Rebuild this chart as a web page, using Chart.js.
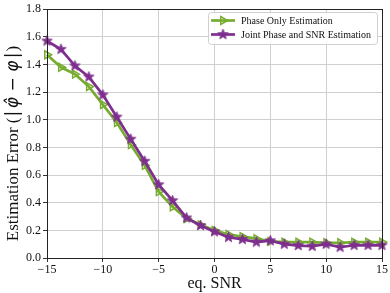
<!DOCTYPE html>
<html>
<head>
<meta charset="utf-8">
<script src="https://cdn.jsdelivr.net/npm/chart.js@4.4.1/dist/chart.umd.min.js"></script>
<style>
html,body{margin:0;padding:0;background:#fff;}
#wrap{width:390px;height:293px;position:relative;}
</style>
</head>
<body>
<div id="wrap"><canvas id="c"></canvas></div>
<script>
// ---- data ----
const snr = [-15, -13.75, -12.5, -11.25, -10, -8.75, -7.5, -6.25, -5, -3.75, -2.5, -1.25, 0,
             1.25, 2.5, 3.75, 5, 6.25, 7.5, 8.75, 10, 11.25, 12.5, 13.75, 15];
const phaseOnly = [1.47, 1.38, 1.33, 1.24, 1.11, 0.98, 0.82, 0.67, 0.48, 0.37, 0.285, 0.24, 0.20,
                   0.17, 0.155, 0.14, 0.12, 0.115, 0.115, 0.115, 0.11, 0.11, 0.115, 0.115, 0.115];
const jointEst = [1.57, 1.51, 1.39, 1.31, 1.18, 1.02, 0.86, 0.70, 0.53, 0.415, 0.29, 0.235, 0.19,
                  0.15, 0.135, 0.115, 0.125, 0.10, 0.09, 0.085, 0.10, 0.078, 0.092, 0.092, 0.092];
const seriesLabels = ['Phase Only Estimation', 'Joint Phase and SNR Estimation'];
const xTicks = [-15, -10, -5, 0, 5, 10, 15];
const yTicks = [0.0, 0.2, 0.4, 0.6, 0.8, 1.0, 1.2, 1.4, 1.6, 1.8];
const xTitle = 'eq. SNR';
// [text, isMath]
const yTitleParts = [['Estimation Error (', false], ['|', true], ['\u03C6\u0302', true], ['\u2212', true],
                     ['\u03C6', true], ['|', true], [')', false]];

const GREEN = '#77AC30';
const PURPLE = '#7E2F8E';
const SERIF = '"Liberation Serif", "DejaVu Serif", serif';
const MATH = '"DejaVu Sans", sans-serif';

function starCanvas(color, r) {
  const size = Math.ceil(2 * r + 2);
  const c = document.createElement('canvas');
  c.width = size; c.height = size;
  const ctx = c.getContext('2d');
  const cx = size / 2, cy = size / 2, ri = r * 0.42;
  ctx.beginPath();
  for (let i = 0; i < 10; i++) {
    const rad = i % 2 === 0 ? r : ri;
    const a = -Math.PI / 2 + i * Math.PI / 5;
    const px = cx + rad * Math.cos(a), py = cy + rad * Math.sin(a);
    if (i === 0) ctx.moveTo(px, py); else ctx.lineTo(px, py);
  }
  ctx.closePath();
  ctx.fillStyle = color;
  ctx.fill();
  ctx.lineWidth = 0.8;
  ctx.strokeStyle = color;
  ctx.stroke();
  return c;
}
const star = starCanvas(PURPLE, 5.5);

const framePlugin = {
  id: 'frame',
  afterDatasetsDraw(chart) {
    const {ctx, chartArea: a} = chart;
    ctx.save();
    ctx.strokeStyle = '#222';
    ctx.lineWidth = 1;
    ctx.strokeRect(Math.round(a.left) + 0.5, Math.round(a.top) + 0.5,
                   Math.round(a.right - a.left), Math.round(a.bottom - a.top));
    ctx.restore();
  }
};

const yTitlePlugin = {
  id: 'yTitle',
  afterDraw(chart) {
    const ctx = chart.ctx;
    const size = 17;
    const gap = {'\u2212': 4, '\u03C6\u0302': 1.5, '\u03C6': 1.5, '|': 1};
    const fontOf = p => p[1] ? (p[0] === '|' || p[0] === '\u2212' ? '' : 'italic ') + size + 'px ' + MATH : size + 'px ' + SERIF;
    ctx.save();
    let total = 0;
    const widths = yTitleParts.map(p => {
      ctx.font = fontOf(p);
      const g = gap[p[0]] || 0;
      const w = ctx.measureText(p[0]).width + 2 * g;
      total += w;
      return w;
    });
    const mid = 143.5;
    ctx.translate(18, mid + total / 2);
    ctx.rotate(-Math.PI / 2);
    ctx.fillStyle = '#111';
    ctx.textBaseline = 'alphabetic';
    ctx.textAlign = 'left';
    let x = 0;
    yTitleParts.forEach((p, i) => {
      ctx.font = fontOf(p);
      const g = gap[p[0]] || 0;
      ctx.fillText(p[0], x + g, 0);
      x += widths[i];
    });
    ctx.restore();
  }
};

const legendPlugin = {
  id: 'boxLegend',
  afterDraw(chart) {
    const ctx = chart.ctx;
    const x0 = 208.5, y0 = 12.5, w = 169, h = 32, r = 3;
    ctx.save();
    ctx.beginPath();
    ctx.moveTo(x0 + r, y0);
    ctx.lineTo(x0 + w - r, y0); ctx.arcTo(x0 + w, y0, x0 + w, y0 + r, r);
    ctx.lineTo(x0 + w, y0 + h - r); ctx.arcTo(x0 + w, y0 + h, x0 + w - r, y0 + h, r);
    ctx.lineTo(x0 + r, y0 + h); ctx.arcTo(x0, y0 + h, x0, y0 + h - r, r);
    ctx.lineTo(x0, y0 + r); ctx.arcTo(x0, y0, x0 + r, y0, r);
    ctx.closePath();
    ctx.fillStyle = 'rgba(255,255,255,0.85)';
    ctx.fill();
    ctx.strokeStyle = '#d0d0d0';
    ctx.lineWidth = 1;
    ctx.stroke();
    const rows = [20.5, 34.5];
    chart.data.datasets.forEach((ds, i) => {
      const y = rows[i];
      ctx.beginPath();
      ctx.moveTo(211, y); ctx.lineTo(235, y);
      ctx.strokeStyle = ds.borderColor;
      ctx.lineWidth = ds.borderWidth;
      ctx.stroke();
      if (ds.pointStyle === 'triangle') {
        ctx.strokeStyle = ds.borderColor;
        ctx.fillStyle = 'rgba(0,0,0,0)';
        ctx.lineWidth = ds.pointBorderWidth;
        Chart.helpers.drawPoint(ctx, {pointStyle: 'triangle', rotation: 90, radius: ds.pointRadius, borderWidth: ds.pointBorderWidth}, 223, y);
      } else {
        ctx.drawImage(ds.pointStyle, 223 - ds.pointStyle.width / 2, y - ds.pointStyle.height / 2);
      }
      ctx.fillStyle = '#111';
      ctx.font = '10px ' + SERIF;
      ctx.textBaseline = 'middle';
      ctx.textAlign = 'left';
      ctx.fillText(ds.label, 241, y + 0.5);
    });
    ctx.restore();
  }
};

const ctxEl = document.getElementById('c');
new Chart(ctxEl, {
  type: 'line',
  data: {
    datasets: [
      {
        label: seriesLabels[0],
        data: snr.map((x, i) => ({x, y: phaseOnly[i]})),
        borderColor: GREEN,
        backgroundColor: 'rgba(0,0,0,0)',
        borderWidth: 2.7,
        pointStyle: 'triangle',
        pointRotation: 90,
        pointRadius: 4.5,
        pointBorderWidth: 1.5,
        pointBorderColor: GREEN,
        pointBackgroundColor: 'rgba(0,0,0,0)',
        tension: 0,
        clip: false,
        order: 2
      },
      {
        label: seriesLabels[1],
        data: snr.map((x, i) => ({x, y: jointEst[i]})),
        borderColor: PURPLE,
        backgroundColor: PURPLE,
        borderWidth: 2.7,
        pointStyle: star,
        pointRadius: 5,
        tension: 0,
        clip: false,
        order: 1
      }
    ]
  },
  options: {
    responsive: true,
    maintainAspectRatio: false,
    animation: false,
    devicePixelRatio: 1,
    layout: {padding: {left: 0, right: 8, top: 7, bottom: 0}},
    plugins: {legend: {display: false}, tooltip: {enabled: false}},
    scales: {
      x: {
        type: 'linear',
        min: -15, max: 15,
        afterBuildTicks(scale) { scale.ticks = xTicks.map(v => ({value: v})); },
        afterFit(scale) { scale.height = 35; },
        ticks: {
          color: '#111',
          font: {family: SERIF, size: 12},
          padding: 1,
          maxRotation: 0,
          autoSkip: false,
          callback: v => String(v).replace('-', '\u2212')
        },
        grid: {color: '#cfcfcf', lineWidth: 1, tickLength: 4, tickColor: '#333', drawTicks: true},
        border: {display: false},
        title: {display: true, text: xTitle, color: '#111', font: {family: SERIF, size: 16}, padding: {top: 0, bottom: 0}}
      },
      y: {
        type: 'linear',
        min: 0, max: 1.8,
        afterBuildTicks(scale) { scale.ticks = yTicks.map(v => ({value: v})); },
        afterFit(scale) { scale.width = 47; },
        ticks: {
          color: '#111',
          font: {family: SERIF, size: 12},
          padding: 2,
          autoSkip: false,
          callback: v => Number(v).toFixed(1)
        },
        grid: {color: '#cfcfcf', lineWidth: 1, tickLength: 4, tickColor: '#333', drawTicks: true},
        border: {display: false},
        title: {display: false}
      }
    }
  },
  plugins: [framePlugin, yTitlePlugin, legendPlugin]
});
</script>
</body>
</html>
